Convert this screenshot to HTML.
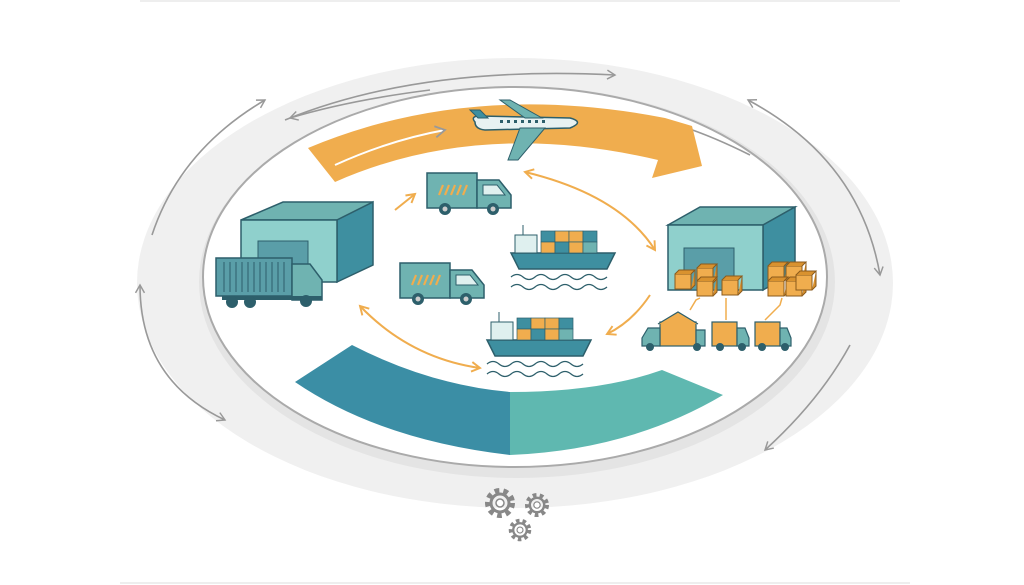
<!DOCTYPE html>
<html><head><meta charset="utf-8"><style>html,body{margin:0;padding:0;background:#fff}svg{display:block}</style></head><body>
<svg width="1024" height="585" viewBox="0 0 1024 585" xmlns="http://www.w3.org/2000/svg">
<defs>
<marker id="ah" viewBox="0 0 10 10" refX="8" refY="5" markerWidth="6" markerHeight="6" orient="auto-start-reverse"><path d="M1,1 L8,5 L1,9" fill="none" stroke="#f0ad4e" stroke-width="1.6"/></marker>
<marker id="gh" viewBox="0 0 10 10" refX="8" refY="5" markerWidth="7" markerHeight="7" orient="auto-start-reverse"><path d="M1,1 L8,5 L1,9" fill="none" stroke="#999" stroke-width="1.3"/></marker>
<g id="truck">
<rect x="0" y="0" width="50" height="35" fill="#6fb3b1" stroke="#2d5f6b" stroke-width="1.5"/>
<path d="M50,7 L72,7 L84,22 L84,35 L50,35 Z" fill="#6fb3b1" stroke="#2d5f6b" stroke-width="1.5"/>
<path d="M56,12 L70,12 L78,22 L56,22 Z" fill="#dff0ef" stroke="#2d5f6b"/>
<g stroke="#f0ad4e" stroke-width="2.2"><path d="M12,22 L16,12 M18,22 L22,12 M24,22 L28,12 M30,22 L34,12 M36,22 L40,12"/></g>
<circle cx="18" cy="36" r="6" fill="#2d5f6b"/><circle cx="18" cy="36" r="2.5" fill="#ccc"/>
<circle cx="66" cy="36" r="6" fill="#2d5f6b"/><circle cx="66" cy="36" r="2.5" fill="#ccc"/>
</g>
<g id="ship">
<path d="M0,18 L104,18 L96,34 L8,34 Z" fill="#3e8fa0" stroke="#2d5f6b" stroke-width="1.5"/>
<rect x="4" y="0" width="22" height="18" fill="#dff0ef" stroke="#2d5f6b"/>
<line x1="12" y1="0" x2="12" y2="-10" stroke="#2d5f6b"/>
<rect x="30" y="-4" width="14" height="11" fill="#3e8fa0" stroke="#2d5f6b" stroke-width=".7"/>
<rect x="44" y="-4" width="14" height="11" fill="#f0ad4e" stroke="#2d5f6b" stroke-width=".7"/>
<rect x="58" y="-4" width="14" height="11" fill="#f0ad4e" stroke="#2d5f6b" stroke-width=".7"/>
<rect x="72" y="-4" width="14" height="11" fill="#3e8fa0" stroke="#2d5f6b" stroke-width=".7"/>
<rect x="30" y="7" width="14" height="11" fill="#f0ad4e" stroke="#2d5f6b" stroke-width=".7"/>
<rect x="44" y="7" width="14" height="11" fill="#3e8fa0" stroke="#2d5f6b" stroke-width=".7"/>
<rect x="58" y="7" width="14" height="11" fill="#f0ad4e" stroke="#2d5f6b" stroke-width=".7"/>
<rect x="72" y="7" width="14" height="11" fill="#6fb3b1" stroke="#2d5f6b" stroke-width=".7"/>
<path d="M0,42 q6,-5 12,0 t12,0 t12,0 t12,0 t12,0 t12,0 t12,0 t12,0 M0,52 q6,-5 12,0 t12,0 t12,0 t12,0 t12,0 t12,0 t12,0 t12,0" fill="none" stroke="#2d5f6b" stroke-width="1.3"/>
</g>
<g id="box"><rect x="0" y="0" width="16" height="15" fill="#f0ad4e" stroke="#8a5a1c" stroke-width="1"/><path d="M0,0 L4,-4 L20,-4 L16,0 M16,15 L20,11 L20,-4" fill="#d9922f" stroke="#8a5a1c" stroke-width="1"/></g>
<g id="gear"><circle r="12" fill="none" stroke="#888" stroke-width="6" stroke-dasharray="4.5 4"/><circle r="9" fill="none" stroke="#888" stroke-width="3"/><circle r="4" fill="#fff" stroke="#888" stroke-width="1.5"/></g>
</defs>
<rect width="1024" height="585" fill="#fff"/>
<line x1="140" y1="1" x2="900" y2="1" stroke="#ddd"/>
<line x1="120" y1="583" x2="910" y2="583" stroke="#ddd"/>
<!-- outer ring -->
<ellipse cx="515" cy="283" rx="378" ry="225" fill="#f0f0f0"/>
<ellipse cx="517" cy="282" rx="318" ry="196" fill="#e4e4e4"/>
<ellipse cx="515" cy="277" rx="312" ry="190" fill="#fff" stroke="#aaa" stroke-width="2"/>
<!-- gray arrows -->
<g fill="none" stroke="#999" stroke-width="1.6">
<path d="M285,120 Q420,65 615,75" marker-end="url(#gh)"/>
<path d="M430,90 Q350,100 290,118" marker-end="url(#gh)"/>
<path d="M265,100 Q180,150 152,235" marker-start="url(#gh)"/>
<path d="M140,285 Q140,380 225,420" marker-start="url(#gh)" marker-end="url(#gh)"/>
<path d="M748,100 Q860,160 880,275" marker-start="url(#gh)" marker-end="url(#gh)"/>
<path d="M850,345 Q820,400 765,450" marker-end="url(#gh)"/>
<path d="M660,120 Q700,130 750,155"/>
</g>
<!-- orange band -->
<path d="M308,148 Q470,80 665,118 L692,126 L702,166 L652,178 L658,160 Q480,118 335,182 Z" fill="#f0ad4e"/>
<path d="M335,165 Q390,140 445,130" fill="none" stroke="#fff" stroke-width="2" marker-end="url(#gh)"/>
<!-- teal band -->
<path d="M295,382 L352,345 Q430,385 510,392 L510,455 Q380,440 295,382 Z" fill="#3b8ea5"/>
<path d="M510,392 Q600,392 662,370 L723,395 Q630,450 510,455 Z" fill="#5fb8b0"/>
<!-- plane -->
<g transform="translate(470,100)">
<path d="M5,22 Q0,16 10,16 L100,18 Q115,22 100,28 L15,30 Q5,29 5,22 Z" fill="#e8f2f2" stroke="#2d5f6b" stroke-width="1.5"/>
<path d="M0,10 L10,10 L18,18 L8,18 Z" fill="#3e8fa0" stroke="#2d5f6b"/>
<path d="M50,28 L38,60 L48,60 L75,28 Z" fill="#6fb3b1" stroke="#2d5f6b"/>
<path d="M55,18 L30,0 L40,0 L72,18 Z" fill="#6fb3b1" stroke="#2d5f6b"/>
<g fill="#2d5f6b"><rect x="30" y="20" width="3" height="3"/><rect x="37" y="20" width="3" height="3"/><rect x="44" y="20" width="3" height="3"/><rect x="51" y="20" width="3" height="3"/><rect x="58" y="20" width="3" height="3"/><rect x="65" y="20" width="3" height="3"/><rect x="72" y="20" width="3" height="3"/></g>
</g>
<!-- left warehouse -->
<path d="M241,220 L283,202 L373,202 L337,220 Z" fill="#6fb3b1" stroke="#2d5f6b" stroke-width="1.5"/>
<path d="M337,220 L373,202 L373,265 L337,282 Z" fill="#3e8fa0" stroke="#2d5f6b" stroke-width="1.5"/>
<rect x="241" y="220" width="96" height="62" fill="#8fd0cc" stroke="#2d5f6b" stroke-width="1.5"/>
<rect x="258" y="241" width="50" height="41" fill="#5a9ea8" stroke="#2d5f6b"/>
<!-- big truck -->
<rect x="216" y="258" width="76" height="38" fill="#5a9ea8" stroke="#2d5f6b" stroke-width="1.5"/>
<g stroke="#2d5f6b" stroke-width="1"><path d="M224,262v30M230,262v30M236,262v30M242,262v30M248,262v30M254,262v30M260,262v30M266,262v30M272,262v30M278,262v30M284,262v30"/></g>
<path d="M292,264 L310,264 L322,280 L322,300 L292,300 Z" fill="#6fb3b1" stroke="#2d5f6b" stroke-width="1.5"/>
<rect x="222" y="296" width="100" height="4" fill="#2d5f6b"/>
<g fill="#2d5f6b"><circle cx="232" cy="302" r="6"/><circle cx="250" cy="302" r="6"/><circle cx="306" cy="301" r="6"/></g>
<!-- trucks -->
<use href="#truck" x="427" y="173"/>
<use href="#truck" x="400" y="263"/>
<!-- ships -->
<use href="#ship" x="511" y="235"/>
<use href="#ship" x="487" y="322"/>
<!-- right warehouse -->
<path d="M668,225 L700,207 L795,207 L763,225 Z" fill="#6fb3b1" stroke="#2d5f6b" stroke-width="1.5"/>
<path d="M763,225 L795,207 L795,272 L763,290 Z" fill="#3e8fa0" stroke="#2d5f6b" stroke-width="1.5"/>
<rect x="668" y="225" width="95" height="65" fill="#8fd0cc" stroke="#2d5f6b" stroke-width="1.5"/>
<rect x="684" y="248" width="50" height="42" fill="#5a9ea8" stroke="#2d5f6b"/>
<use href="#box" x="675" y="274"/><use href="#box" x="697" y="268"/><use href="#box" x="697" y="281"/><use href="#box" x="722" y="280"/>
<use href="#box" x="768" y="266"/><use href="#box" x="786" y="266"/><use href="#box" x="768" y="281"/><use href="#box" x="786" y="281"/><use href="#box" x="796" y="275"/>
<g fill="none" stroke="#f0ad4e" stroke-width="1.5"><path d="M690,310 L696,300 L700,298M726,320 L726,298M765,320 L780,305 L782,298"/></g>
<!-- small trucks -->
<g stroke="#2d5f6b" stroke-width="1.2">
<rect x="660" y="322" width="36" height="24" fill="#f0ad4e"/><path d="M658,324 L678,312 L698,324" fill="#f0ad4e"/>
<path d="M660,328 L648,328 L642,338 L642,346 L660,346 Z" fill="#6fb3b1"/><path d="M696,330 L705,330 L705,346 L696,346Z" fill="#6fb3b1"/>
<rect x="712" y="322" width="25" height="24" fill="#f0ad4e"/><path d="M737,328 L745,328 L749,338 L749,346 L737,346 Z" fill="#6fb3b1"/>
<rect x="755" y="322" width="25" height="24" fill="#f0ad4e"/><path d="M780,328 L787,328 L791,338 L791,346 L780,346 Z" fill="#6fb3b1"/>
</g>
<g fill="#2d5f6b"><circle cx="650" cy="347" r="4"/><circle cx="697" cy="347" r="4"/><circle cx="720" cy="347" r="4"/><circle cx="742" cy="347" r="4"/><circle cx="762" cy="347" r="4"/><circle cx="785" cy="347" r="4"/></g>
<!-- orange thin arrows -->
<g fill="none" stroke="#f0ad4e" stroke-width="2">
<path d="M395,210 L415,194" marker-end="url(#ah)"/>
<path d="M525,172 Q620,195 655,250" marker-start="url(#ah)" marker-end="url(#ah)"/>
<path d="M650,295 Q632,322 607,334" marker-end="url(#ah)"/>
<path d="M360,306 Q410,358 480,368" marker-start="url(#ah)" marker-end="url(#ah)"/>
</g>
<!-- gears -->
<use href="#gear" x="500" y="503"/>
<use href="#gear" transform="translate(537,505) scale(0.8)"/>
<use href="#gear" transform="translate(520,530) scale(0.75)"/>
</svg>
</body></html>
